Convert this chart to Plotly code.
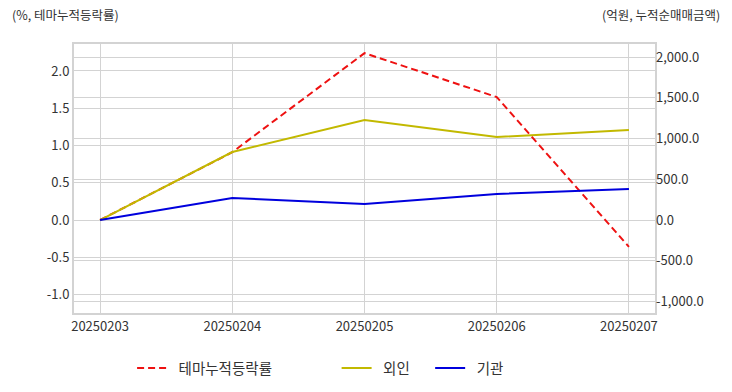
import plotly.graph_objects as go

dates = ["20250203", "20250204", "20250205", "20250206", "20250207"]
theme_rate = [0.0, 0.91, 2.24, 1.65, -0.36]
foreign = [0.0, 834.0, 1227.0, 1018.0, 1104.0]
institution = [0.0, 270.0, 196.0, 319.0, 380.0]

left_ticks = [-1.0, -0.5, 0.0, 0.5, 1.0, 1.5, 2.0]
right_ticks = [-1000, -500, 0, 500, 1000, 1500, 2000]

font_family = "Noto Sans CJK KR, Noto Sans, sans-serif"
grid_color = "#d3d3d3"
text_color = "#333333"
pad = "\u00a0\u00a0"

fig = go.Figure()
fig.add_trace(go.Scatter(
    x=dates, y=theme_rate, name=pad + "테마누적등락률", mode="lines",
    line=dict(color="#ee1111", width=2, dash="7px,4px"), yaxis="y", legend="legend"))
fig.add_trace(go.Scatter(
    x=dates, y=foreign, name=pad + "외인", mode="lines",
    line=dict(color="#c2b900", width=2), yaxis="y2", legend="legend2"))
fig.add_trace(go.Scatter(
    x=dates, y=institution, name=pad + "기관", mode="lines",
    line=dict(color="#0000dd", width=2), yaxis="y2", legend="legend3"))

legend_common = dict(orientation="h", y=-0.145, yanchor="top", xanchor="left",
                     font=dict(size=14.5, color=text_color), bgcolor="rgba(0,0,0,0)")

fig.update_layout(
    template="none",
    width=732, height=392,
    margin=dict(l=74, r=77, t=44, b=79, autoexpand=False),
    paper_bgcolor="white", plot_bgcolor="white",
    font=dict(family=font_family, size=12, color=text_color),
    showlegend=True,
    legend=dict(x=0.100, **legend_common),
    legend2=dict(x=0.452, **legend_common),
    legend3=dict(x=0.613, **legend_common),
    xaxis=dict(type="category", range=[-0.197, 4.197], showgrid=True, automargin=False,
               gridcolor=grid_color, gridwidth=1, showline=True, linecolor=grid_color,
               linewidth=2, mirror=True, ticks="", tickfont=dict(size=13, color=text_color)),
    yaxis=dict(range=[-1.248, 2.362], tickvals=left_ticks, automargin=False,
               ticktext=[f"{v:.1f}" for v in left_ticks],
               showgrid=True, gridcolor=grid_color, gridwidth=1, zeroline=False,
               showline=True, linecolor=grid_color, linewidth=2, mirror=True,
               ticks="", tickfont=dict(size=13, color=text_color)),
    yaxis2=dict(range=[-1141, 2160], overlaying="y", side="right", automargin=False,
                tickvals=right_ticks,
                ticktext=[f"{v:,.1f}" for v in right_ticks],
                showgrid=True, gridcolor=grid_color, gridwidth=1, zeroline=False,
                showline=False, ticks="", tickfont=dict(size=13, color=text_color)),
    annotations=[
        dict(text="(%, 테마누적등락률)", xref="paper", yref="paper",
             x=-0.110, y=1.108, xanchor="left", yanchor="middle", showarrow=False,
             font=dict(size=12.5, color=text_color)),
        dict(text="(억원, 누적순매매금액)", xref="paper", yref="paper",
             x=1.1153, y=1.108, xanchor="right", yanchor="middle", showarrow=False,
             font=dict(size=12.5, color=text_color)),
    ],
)

fig.write_html("out.html", config={"displayModeBar": False},
               post_script="document.body.style.margin='0';")
